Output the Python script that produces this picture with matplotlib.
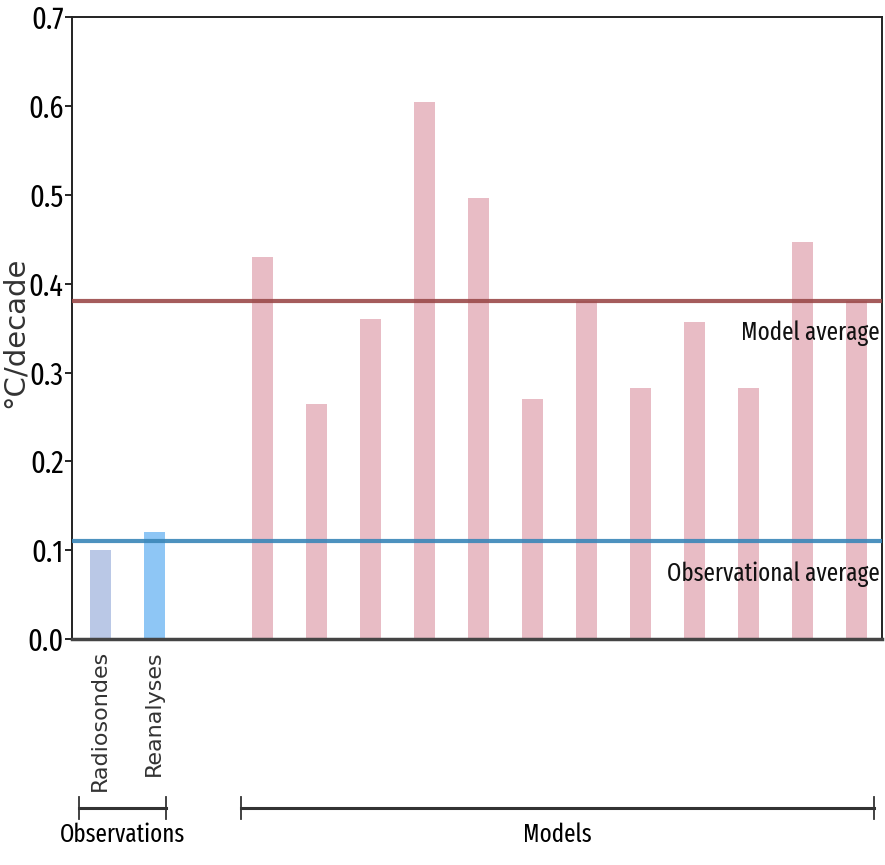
import matplotlib
matplotlib.use("Agg")
import matplotlib.pyplot as plt
import matplotlib.transforms as mtransforms

# data
obs_names = ["Radiosondes", "Reanalyses"]
obs_values = [0.10, 0.12]
obs_colors = ["#bac8e6", "#8ec6f5"]
model_values = [0.43, 0.265, 0.36, 0.605, 0.497, 0.27, 0.38, 0.283, 0.357, 0.283, 0.447, 0.38]
model_average = 0.381
obs_average = 0.11
yticks = [0.0, 0.1, 0.2, 0.3, 0.4, 0.5, 0.6, 0.7]

narrow = ["Fira Sans Extra Condensed", "Roboto Condensed", "DejaVu Sans"]

fig = plt.figure(figsize=(8.85, 8.65), dpi=100)
ax = fig.add_axes([0.0814, 0.2613, 0.9153, 0.7188])

obs_x = list(range(len(obs_names)))
model_x = [i + 3 for i in range(len(model_values))]

ax.bar(obs_x, obs_values, width=0.39, color=obs_colors, zorder=2)
ax.bar(model_x, model_values, width=0.39, color="#e8bcc5", zorder=2)

ax.axhline(model_average, color="#9b4a4a", lw=3, alpha=0.9, zorder=3)
ax.axhline(obs_average, color="#3a86b8", lw=3, alpha=0.9, zorder=3)

ax.text(14.43, model_average - 0.022, "Model average", ha="right", va="top",
        fontsize=18, family=narrow, weight="normal", color="#111111")
ax.text(14.43, obs_average - 0.022, "Observational average", ha="right", va="top",
        fontsize=18, family=narrow, weight="normal", color="#111111")

ax.set_xlim(-0.52, 14.48)
ax.set_ylim(0, 0.7)
ax.set_yticks(yticks)
ax.set_yticklabels([f"{v:.1f}" for v in yticks], fontsize=22, family=narrow, weight="normal")
ax.tick_params(axis="y", length=5, width=1.2, pad=1)
ax.set_xticks(obs_x)
ax.set_xticklabels(obs_names, rotation=90, fontsize=16, color="#333333")
ax.tick_params(axis="x", length=0, pad=8)
ax.set_ylabel("°C/decade", fontsize=21, color="#333333")
ax.yaxis.set_label_coords(-0.054, 0.493)

for side in ["left", "top", "right"]:
    ax.spines[side].set_linewidth(1.4)
    ax.spines[side].set_color("#222222")
ax.spines["bottom"].set_linewidth(2.5)
ax.spines["bottom"].set_color("#444444")

# group brackets under the axis
trans = mtransforms.blended_transform_factory(ax.transData, fig.transFigure)
brackets = [("Observations", -0.39, 1.22), ("Models", 2.61, 14.33)]
yb = 0.066
for label, x0, x1 in brackets:
    ax.plot([x0, x1], [yb, yb], color="#333333", lw=2.2, transform=trans, clip_on=False)
    for xe in (x0, x1):
        ax.plot([xe, xe], [yb - 0.013, yb + 0.013], color="#333333", lw=1.3,
                transform=trans, clip_on=False)
    ax.text((x0 + x1) / 2, yb - 0.017, label, ha="center", va="top", fontsize=18,
            family=narrow, weight="normal", transform=trans)

fig.savefig("out.png", dpi=100)
